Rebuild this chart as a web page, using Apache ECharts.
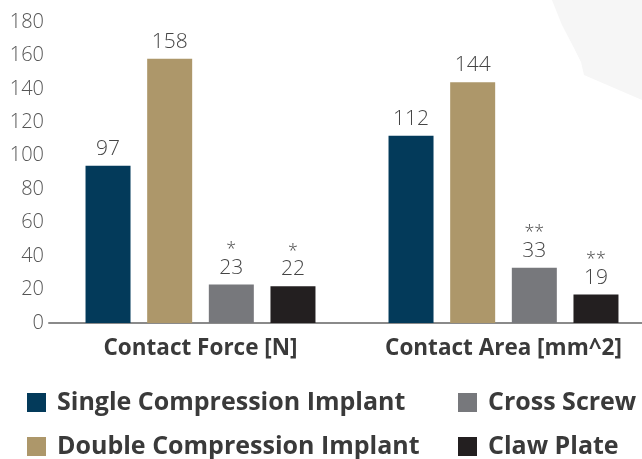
<!DOCTYPE html>
<html>
<head>
<meta charset="utf-8">
<script src="https://cdn.jsdelivr.net/npm/echarts@6/dist/echarts.min.js"></script>
<style>html,body{margin:0;padding:0;background:#fff;}#c{width:642px;height:459px;}</style>
</head>
<body>
<div id="c"></div>
<script>
var categories = ['Contact Force [N]', 'Contact Area [mm^2]'];
var seriesNames = ['Single Compression Implant', 'Double Compression Implant', 'Cross Screw', 'Claw Plate'];
var singleValues = [94, 112];
var doubleValues = [158, 144];
var crossValues = [23, 33];
var clawValues = [22, 17];
var singleLabels = ['97', '112'];
var doubleLabels = ['158', '144'];
var crossLabels = ['23', '33'];
var clawLabels = ['22', '19'];
var crossMarks = ['*', '**'];
var clawMarks = ['*', '**'];
var yTicks = [0, 20, 40, 60, 80, 100, 120, 140, 160, 180];

var colors = ['#033a5a', '#ad976a', '#77787c', '#231f20'];

function makeLabel(texts, marks) {
  return {
    show: true,
    position: 'top',
    distance: 6,
    formatter: function (p) {
      var t = '{n|' + texts[p.dataIndex] + '}';
      if (marks) t = '{s|' + marks[p.dataIndex] + '}\n' + t;
      return t;
    },
    rich: {
      n: { fontFamily: 'Open Sans', fontWeight: 300, fontSize: 21, color: '#454545', lineHeight: 22 },
      s: { fontFamily: 'Open Sans', fontWeight: 300, fontSize: 18, color: '#454545', lineHeight: 13 }
    }
  };
}

var seriesData = [singleValues, doubleValues, crossValues, clawValues];
var labelData = [[singleLabels, null], [doubleLabels, null], [crossLabels, crossMarks], [clawLabels, clawMarks]];

var series = seriesNames.map(function (name, i) {
  return {
    name: name,
    type: 'bar',
    data: seriesData[i],
    barWidth: 45,
    barGap: '37%',
    itemStyle: { color: colors[i] },
    label: makeLabel(labelData[i][0], labelData[i][1]),
    emphasis: { disabled: true }
  };
});

var legendText = { fontFamily: 'Open Sans', fontWeight: 'bold', fontSize: 25, color: '#3a3a3a', padding: [0, 0, 0, 6] };
var legendPos = [[27, 390], [27, 434], [458, 390], [458, 434]];
var legends = seriesNames.map(function (name, i) {
  return {
    orient: 'horizontal',
    left: legendPos[i][0],
    top: legendPos[i][1],
    padding: 0,
    itemWidth: 19,
    itemHeight: 19,
    itemGap: 8,
    icon: 'rect',
    data: [name],
    textStyle: legendText,
    selectedMode: false
  };
});

var chart = echarts.init(document.getElementById('c'), null, { renderer: 'canvas' });
chart.setOption({
  animation: false,
  backgroundColor: '#ffffff',
  graphic: [{
    type: 'polygon',
    z: -10,
    shape: { points: [[552, 0], [562, 25], [574, 48], [581, 62], [584, 75], [642, 100], [642, 0]] },
    style: { fill: '#f6f6f6' },
    silent: true
  }],
  grid: { left: 49, top: 22, width: 606, height: 301, containLabel: false, outerBoundsMode: 'none' },
  legend: legends,
  xAxis: {
    type: 'category',
    data: categories,
    axisLine: { show: true, lineStyle: { color: '#8a8a8a', width: 2 } },
    axisTick: { show: false },
    axisLabel: { interval: 0, hideOverlap: false, fontFamily: 'Open Sans', fontWeight: 'bold', fontSize: 22.5, color: '#3a3a3a', margin: 14 }
  },
  yAxis: {
    type: 'value',
    min: 0,
    max: 180,
    interval: 20,
    axisLine: { show: false },
    axisTick: { show: false },
    splitLine: { show: false },
    axisLabel: {
      fontFamily: 'Open Sans', fontWeight: 300, fontSize: 20, color: '#555555', margin: 5,
      formatter: function (v) { return yTicks.indexOf(v) >= 0 ? String(v) : ''; }
    }
  },
  series: series
});
</script>
</body>
</html>
